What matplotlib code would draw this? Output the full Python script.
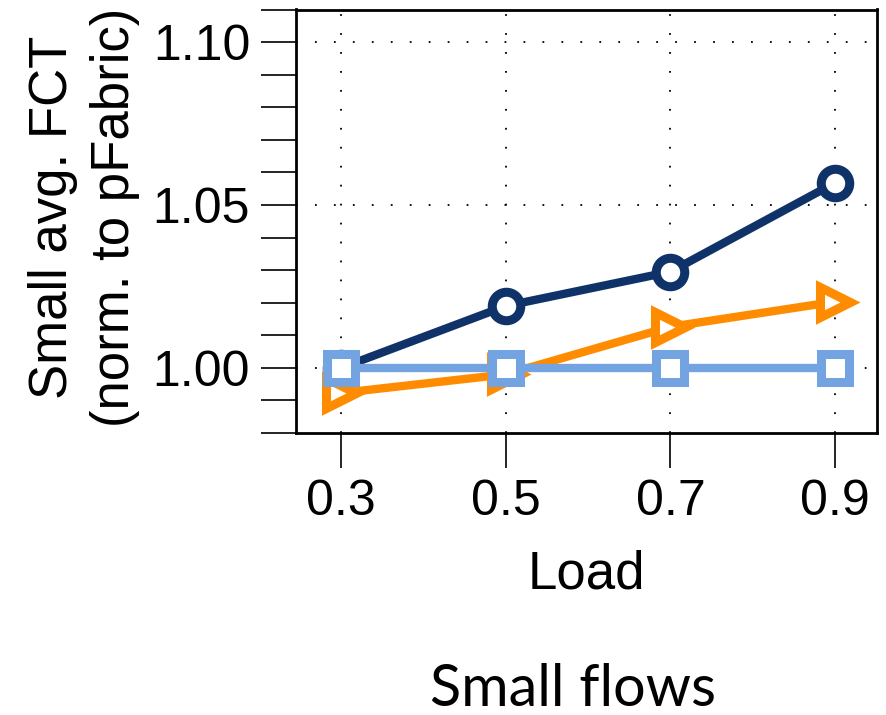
import matplotlib
matplotlib.use("Agg")
import matplotlib.pyplot as plt
from matplotlib.ticker import MultipleLocator

# Data
load = [0.3, 0.5, 0.7, 0.9]
fct_circle = [1.000, 1.019, 1.0295, 1.0568]
fct_triangle = [0.9923, 0.998, 1.0126, 1.0203]
fct_square = [1.000, 1.000, 1.000, 1.000]
tick_labels = ["0.3", "0.5", "0.7", "0.9"]

navy = "#0F3369"
orange = "#FF8C00"
light_blue = "#74A3E1"

plt.rcParams["font.family"] = ["Liberation Sans", "DejaVu Sans"]

fig = plt.figure(figsize=(8.86, 7.15), dpi=100)
ax = fig.add_axes([296 / 886, 1 - 433 / 715, 581 / 886, 423.5 / 715])

# markers: white inside, thick coloured edge
ax.plot(load, fct_circle, color=navy, lw=6, marker="o", ms=20.5,
        mfc="white", mec=navy, mew=6.5, zorder=3)
ax.plot(load, fct_triangle, color=orange, lw=6, marker=">", ms=21,
        mfc="white", mec=orange, mew=6.5, zorder=4)
ax.plot(load, fct_square, color=light_blue, lw=6, marker="s", ms=20.5,
        mfc="white", mec=light_blue, mew=6.5, zorder=5)

ax.set_xlim(0.245, 0.951)
ax.set_ylim(0.98, 1.11)
ax.set_xticks(load)
ax.set_xticklabels(tick_labels)
ax.set_yticks([1.00, 1.05, 1.10])
ax.set_yticklabels(["1.00", "1.05", "1.10"])
ax.yaxis.set_minor_locator(MultipleLocator(0.01))

ax.tick_params(axis="both", which="both", direction="out", length=25,
               width=1.2, labelsize=36, pad=8)
ax.tick_params(axis="x", which="minor", length=0)

ax.grid(True, which="major", color="black", lw=1.3, linestyle=(0, (1, 9.5)))

for s in ax.spines.values():
    s.set_linewidth(2)

ax.set_xlabel("Load", fontsize=38, labelpad=18)
ax.set_ylabel("Small avg. FCT\n(norm. to pFabric)", fontsize=38,
              linespacing=1.3, va="center", ha="center")
ax.yaxis.set_label_coords(-0.365, 0.51)

fig.text(573 / 886, 1 - 689 / 715, "Small flows", fontsize=41.5,
         family="Lato", ha="center", va="center")

fig.savefig("out.png", dpi=100)
